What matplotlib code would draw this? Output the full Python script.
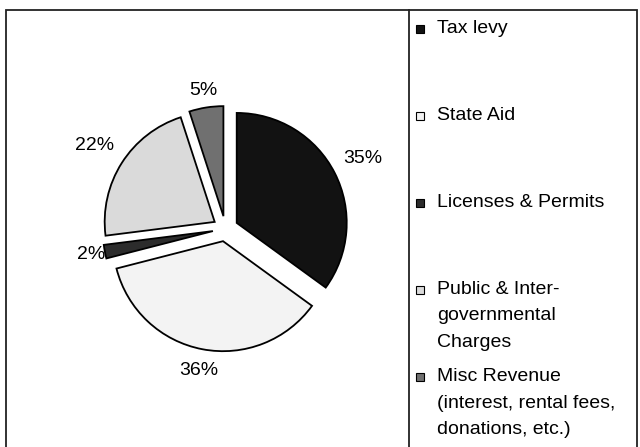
import numpy as np
import matplotlib
matplotlib.use("Agg")
import matplotlib.pyplot as plt
from matplotlib.patches import Rectangle

# ---- data ----
categories = ["Tax levy", "State Aid", "Licenses & Permits",
              "Public & Inter-\ngovernmental\nCharges",
              "Misc Revenue\n(interest, rental fees,\ndonations, etc.)"]
shares = [35, 36, 2, 22, 5]
pct_labels = ["35%", "36%", "2%", "22%", "5%"]

# ---- styles ----
colors = ["#121212", "#f3f3f3", "#2c2c2c", "#dadada", "#707070"]
label_dist = [1.285, 1.20, 1.13, 1.29, 1.155]
FONT = "Liberation Sans"
FS = 14

W, H = 640, 447
fig = plt.figure(figsize=(W / 100, H / 100), dpi=100)
ax = fig.add_axes([0, 0, 1, 1])
ax.set_xlim(0, W)
ax.set_ylim(0, H)
ax.set_aspect("equal")
ax.axis("off")

# outer frame and legend frame
ax.add_patch(Rectangle((5.5, -20), 631.5, 437.5 + 20, fill=False,
                       edgecolor="#222222", linewidth=1.3))
ax.plot([408.5, 408.5], [-20, 437.5], color="#222222", linewidth=1.3)

center = (225.4, H - 228.7)
radius = 110
explode = [12.7] * len(shares)   # absolute data units
wedges, _ = ax.pie(shares, colors=colors, startangle=90, counterclock=False,
                   explode=explode, center=center, radius=radius,
                   wedgeprops=dict(edgecolor="black", linewidth=1.3),
                   frame=False)
ax.set_xlim(0, W)
ax.set_ylim(0, H)

for w, lab, ld, ex in zip(wedges, pct_labels, label_dist, explode):
    mid = np.deg2rad((w.theta1 + w.theta2) / 2)
    r = radius * ld + ex
    x = center[0] + r * np.cos(mid)
    y = center[1] + r * np.sin(mid)
    ax.text(x, y, lab, ha="center", va="center", fontsize=FS, family=FONT,
            color="black")

# legend (manual)
base0 = H - 33
step = 87
for i, (cat, col) in enumerate(zip(categories, colors)):
    yb = base0 - i * step
    ax.add_patch(Rectangle((416, yb), 8, 8, facecolor=col, edgecolor="black",
                           linewidth=0.8))
    for j, line in enumerate(cat.split("\n")):
        ax.text(437, yb - j * 26.5, line, ha="left", va="baseline",
                fontsize=FS, family=FONT, color="black")

fig.savefig("out.png", dpi=100)
